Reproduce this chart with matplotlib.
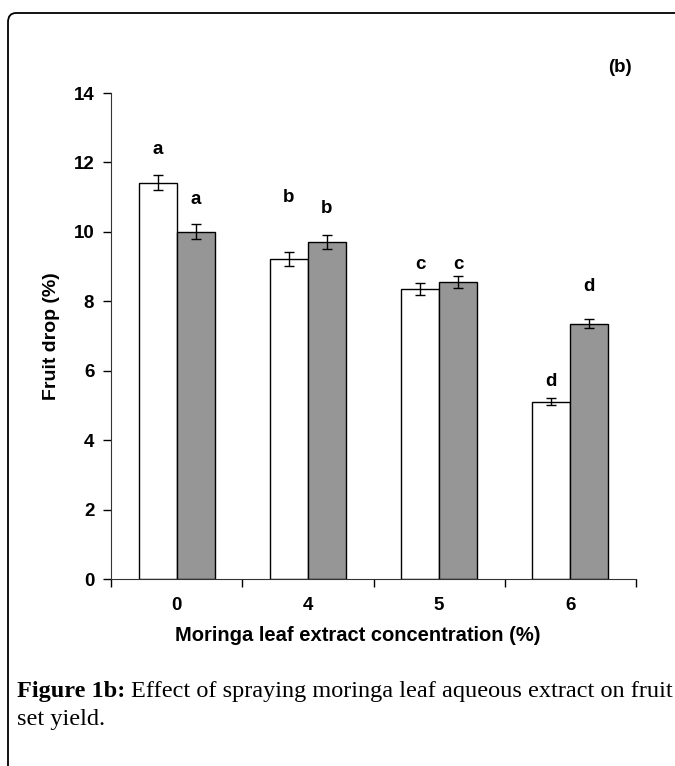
import numpy as np
import matplotlib.pyplot as plt
from matplotlib.patches import FancyBboxPatch

# data
concentrations = ['0', '4', '5', '6']
season1 = [11.42, 9.22, 8.35, 5.10]
season1_err = [0.22, 0.20, 0.17, 0.10]
season2 = [10.00, 9.71, 8.56, 7.36]
season2_err = [0.22, 0.20, 0.17, 0.14]
letters1 = ['a', 'b', 'c', 'd']
letters2 = ['a', 'b', 'c', 'd']
letter_y1 = [12.36, 11.00, 9.05, 5.68]
letter_y2 = [10.92, 10.66, 9.05, 8.44]

fig = plt.figure(figsize=(6.75, 7.66), dpi=100)

# rounded frame around the panel (right/bottom run off the page)
frame = FancyBboxPatch((8 / 675, -0.2), 1.2, (766 - 13) / 766 + 0.2,
                       boxstyle='round,pad=0,rounding_size=0.012',
                       transform=fig.transFigure, fill=False,
                       edgecolor='black', linewidth=1.3)
fig.patches.append(frame)

ax = fig.add_axes([111 / 675, (766 - 579) / 766, (636 - 111) / 675, (579 - 93) / 766])

x = np.arange(len(concentrations))
w = 0.29
ekw = dict(elinewidth=1, capthick=1, ecolor='black')
ax.bar(x - w / 2, season1, w, color='white', edgecolor='black', linewidth=1,
       yerr=season1_err, capsize=3.6, error_kw=ekw)
ax.bar(x + w / 2, season2, w, color='#969696', edgecolor='black', linewidth=1,
       yerr=season2_err, capsize=3.6, error_kw=ekw)

font = 'Liberation Sans'
for i in range(len(x)):
    ax.text(x[i] - w / 2, letter_y1[i], letters1[i], ha='center', va='center',
            fontsize=13.5, fontweight='bold', family=font)
    ax.text(x[i] + w / 2, letter_y2[i], letters2[i], ha='center', va='center',
            fontsize=13.5, fontweight='bold', family=font)

ax.set_xlim(-0.5, len(x) - 0.5)
ax.set_ylim(0, 14)
ax.set_yticks(range(0, 15, 2))
ax.set_xticks(x)
ax.set_xticklabels(concentrations)
ax.set_xticks(np.arange(-0.5, len(x), 1), minor=True)
ax.tick_params(axis='x', which='major', length=0, pad=13)
ax.tick_params(axis='x', which='minor', length=6, width=1, direction='out')
ax.tick_params(axis='y', length=6, width=1, direction='out', pad=6)
for lab in ax.get_xticklabels() + ax.get_yticklabels():
    lab.set_fontfamily(font)
    lab.set_fontweight('bold')
    lab.set_fontsize(13.5)

for s in ['top', 'right']:
    ax.spines[s].set_visible(False)
ax.spines['left'].set_color('#333333')
ax.spines['bottom'].set_color('#333333')

ax.set_ylabel('Fruit drop (%)', fontsize=14, fontweight='bold', family=font, labelpad=10)
ax.set_xlabel('Moringa leaf extract concentration (%)', fontsize=14.5,
              fontweight='bold', family=font, labelpad=3)
ax.xaxis.set_label_coords(0.47, -0.097)

fig.text(620 / 675, 1 - 68 / 766, '(b)', ha='center', va='center',
         fontsize=13.5, fontweight='bold', family=font)

# caption
serif = 'Liberation Serif'
t1 = fig.text(17 / 675, 1 - 691 / 766, 'Figure 1b:', ha='left', va='center',
              fontsize=17.5, fontweight='bold', family=serif)
fig.canvas.draw()
bb = t1.get_window_extent()
fig.text(bb.x1 / 675 + 0.008, 1 - 691 / 766,
         'Effect of spraying moringa leaf aqueous extract on fruit',
         ha='left', va='center', fontsize=17.5, family=serif)
fig.text(17 / 675, 1 - 720 / 766, 'set yield.', ha='left', va='center',
         fontsize=17.5, family=serif)

fig.savefig('out.png', dpi=100)
